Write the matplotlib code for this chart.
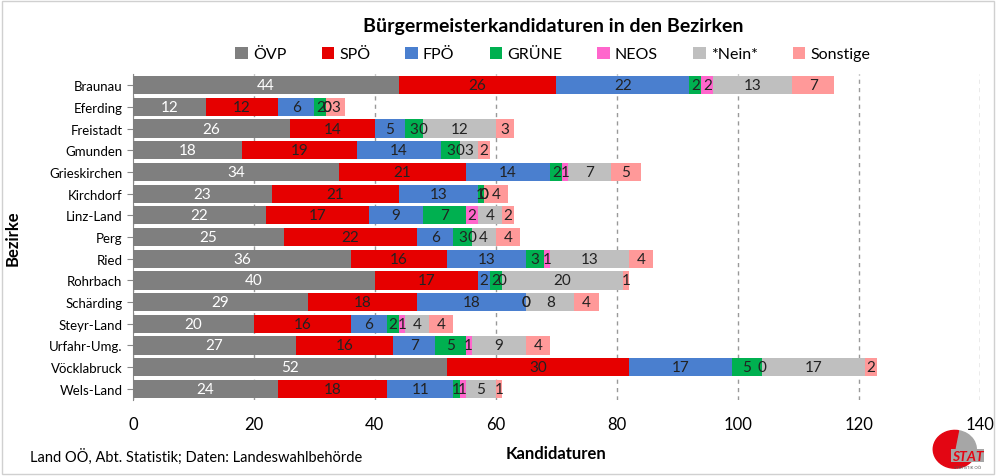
import numpy as np
import matplotlib.pyplot as plt
from matplotlib.patches import Rectangle, Wedge

plt.rcParams['font.family'] = ['Lato', 'DejaVu Sans']

bezirke = ['Braunau', 'Eferding', 'Freistadt', 'Gmunden', 'Grieskirchen',
           'Kirchdorf', 'Linz-Land', 'Perg', 'Ried', 'Rohrbach', 'Schärding',
           'Steyr-Land', 'Urfahr-Umg.', 'Vöcklabruck', 'Wels-Land']
parteien = ['ÖVP', 'SPÖ', 'FPÖ', 'GRÜNE', 'NEOS', '*Nein*', 'Sonstige']

oevp = [44, 12, 26, 18, 34, 23, 22, 25, 36, 40, 29, 20, 27, 52, 24]
spoe = [26, 12, 14, 19, 21, 21, 17, 22, 16, 17, 18, 16, 16, 30, 18]
fpoe = [22, 6, 5, 14, 14, 13, 9, 6, 13, 2, 18, 6, 7, 17, 11]
gruene = [2, 2, 3, 3, 2, 1, 7, 3, 3, 2, 0, 2, 5, 5, 1]
neos = [2, 0, 0, 0, 1, 0, 2, 0, 1, 0, 0, 1, 1, 0, 1]
nein = [13, 0, 12, 3, 7, 0, 4, 4, 13, 20, 8, 4, 9, 17, 5]
sonstige = [7, 3, 3, 2, 5, 4, 2, 4, 4, 1, 4, 4, 4, 2, 1]

serien = [oevp, spoe, fpoe, gruene, neos, nein, sonstige]
farben = ['#7f7f7f', '#e60000', '#4a7fcf', '#00b050', '#ff66cc', '#bfbfbf', '#ff9999']
textfarben = ['white', '#222222', '#222222', '#222222', '#222222', '#222222', '#222222']

fig = plt.figure(figsize=(9.96, 4.77), dpi=100)
ax = fig.add_axes([0.1335, 0.16, 0.85, 0.682])

y = np.arange(len(bezirke))
links = np.zeros(len(bezirke))
for name, werte, farbe, tf in zip(parteien, serien, farben, textfarben):
    werte = np.array(werte, dtype=float)
    bars = ax.barh(y, werte, left=links, height=0.84, color=farbe, label=name, zorder=3)
    ax.bar_label(bars, labels=[str(int(v)) for v in werte], label_type='center',
                 color=tf, fontsize=11, zorder=4)
    links += werte

ax.set_xlim(0, 140)
ax.set_ylim(len(bezirke) - 0.5, -0.5)
ax.set_xticks(range(0, 141, 20))
ax.set_yticks(y)
ax.set_yticklabels(bezirke, fontsize=9.5)
ax.tick_params(axis='x', length=0, labelsize=12, pad=12)
ax.tick_params(axis='y', length=4, color='#888888')
ax.xaxis.grid(True, linestyle=(0, (3, 3)), color='#999999', linewidth=1, zorder=0)
for s in ['top', 'right', 'bottom']:
    ax.spines[s].set_visible(False)
ax.spines['left'].set_color('#888888')

ax.set_xlabel('Kandidaturen', fontsize=12, fontweight='bold', labelpad=9)
ax.set_ylabel('Bezirke', fontsize=12, fontweight='bold')
ax.yaxis.set_label_coords(-0.133, 0.5)

fig.text(0.555, 0.945, 'Bürgermeisterkandidaturen in den Bezirken',
         ha='center', va='center', fontsize=14, fontweight='bold')
fig.legend(loc='center', bbox_to_anchor=(0.555, 0.885), ncol=7, frameon=False,
           fontsize=11.5, handlelength=0.8, handleheight=0.8, handletextpad=0.3,
           columnspacing=2.2)
fig.text(0.03, 0.025, 'Land OÖ, Abt. Statistik; Daten: Landeswahlbehörde',
         ha='left', va='bottom', fontsize=10.5)

# Rahmen und Logo
fig.patches.append(Rectangle((0.002, 0.004), 0.996, 0.992, transform=fig.transFigure,
                             fill=False, edgecolor='#d0d0d0', linewidth=1))
lax = fig.add_axes([0.925, 0.012, 0.072, 0.088])
lax.set_xlim(-1.0, 2.0)
lax.set_ylim(-1.0, 1.0)
lax.axis('off')
lax.add_patch(Wedge((0.4, 0.0), 0.9, -20, 80, color='#a6a6a6'))
lax.add_patch(Wedge((0.4, 0.0), 0.9, 80, 340, color='#e30613'))
lax.text(0.95, -0.3, 'STAT', fontsize=10, fontweight='bold', color='#e30613',
         ha='center', va='center', style='italic',
         bbox=dict(facecolor='#a6a6a6', edgecolor='none', pad=0.5))
lax.text(0.95, -0.85, 'STATISTIK OÖ', fontsize=3, color='#555555', ha='center', va='center')

fig.savefig('out.png', dpi=100)
